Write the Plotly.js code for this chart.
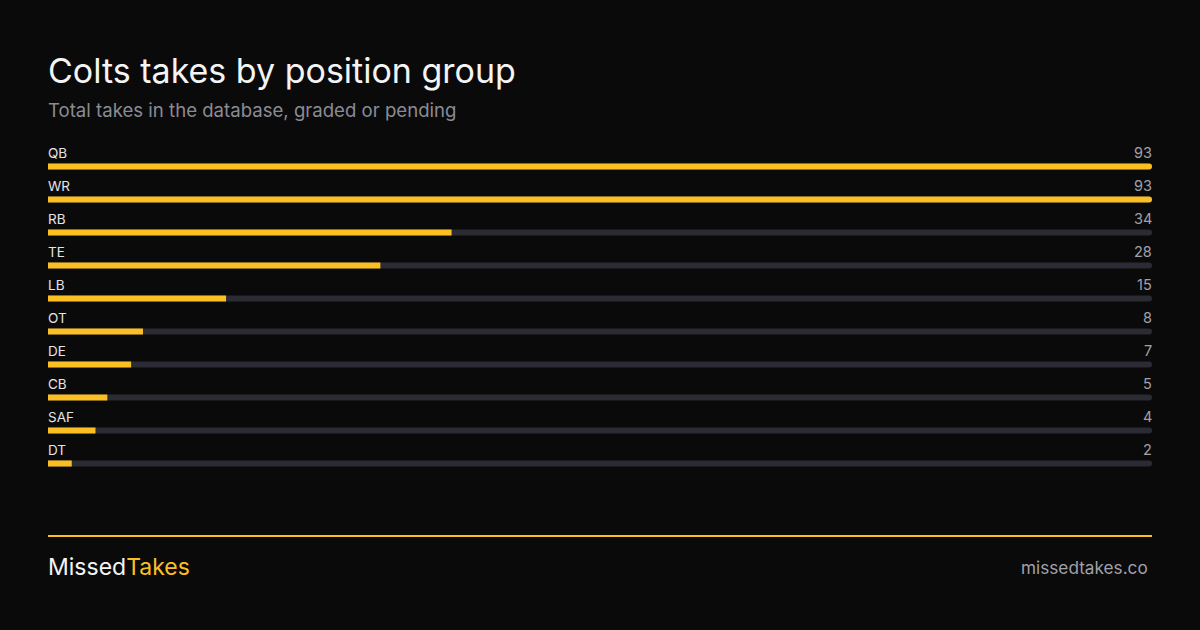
<!DOCTYPE html>
<html>
<head>
<meta charset="utf-8">
<script src="https://cdn.plot.ly/plotly-3.0.1.min.js"></script>
<style>
html,body{margin:0;padding:0;background:#0a0a0a;}
#chart{width:1200px;height:630px;}
</style>
</head>
<body>
<div id="chart"></div>
<script>
const positions = ["QB","WR","RB","TE","LB","OT","DE","CB","SAF","DT"];
const takes = [93,93,34,28,15,8,7,5,4,2];
const maxTakes = Math.max(...takes);
const trackValues = positions.map(() => maxTakes);

const YELLOW = "#fbbf24";
const TRACK = "#2b2b33";
const FONT = "Inter, 'Noto Sans', sans-serif";

const H = 630, MT = 150, MB = 150, PH = H - MT - MB;
const py = px => (H - MB - px) / PH; // pixel -> paper y

const track = {
  type: "bar", orientation: "h",
  x: trackValues, y: positions,
  width: 0.185,
  marker: {color: TRACK, cornerradius: 3},
  hoverinfo: "skip"
};
const bars = {
  type: "bar", orientation: "h",
  x: takes, y: positions,
  width: 0.185,
  marker: {color: YELLOW, cornerradius: 3},
  hoverinfo: "skip"
};

const annotations = [];
positions.forEach((p, i) => {
  annotations.push({
    xref: "paper", yref: "y", x: 0, xshift: -2, y: p, yshift: 14,
    text: p, showarrow: false, xanchor: "left", yanchor: "middle",
    font: {family: FONT, size: 13.5, color: "#e4e4e7"}
  });
  annotations.push({
    xref: "paper", yref: "y", x: 1, xshift: 2, y: p, yshift: 14,
    text: String(takes[i]), showarrow: false, xanchor: "right", yanchor: "middle",
    font: {family: FONT, size: 14.5, color: "#a1a1aa"}
  });
});
annotations.push({
  xref: "paper", yref: "paper", x: 0, xshift: -2, y: py(110),
  text: "Total takes in the database, graded or pending",
  showarrow: false, xanchor: "left", yanchor: "middle",
  font: {family: FONT, size: 18.6, color: "#8b8b94"}
});
annotations.push({
  xref: "paper", yref: "paper", x: 0, xshift: -2, y: py(567),
  text: "Missed<span style='color:" + YELLOW + "'>Takes</span>",
  showarrow: false, xanchor: "left", yanchor: "middle",
  font: {family: FONT, size: 23, color: "#f4f4f5"}
});
annotations.push({
  xref: "paper", yref: "paper", x: 1, xshift: -2, y: py(567),
  text: "missedtakes.co",
  showarrow: false, xanchor: "right", yanchor: "middle",
  font: {family: FONT, size: 17.2, color: "#a1a1aa"}
});

const layout = {
  width: 1200, height: 630,
  paper_bgcolor: "#0a0a0a", plot_bgcolor: "#0a0a0a",
  margin: {l: 48, r: 48, t: MT, b: MB, pad: 0},
  barmode: "overlay",
  showlegend: false,
  title: {
    text: "Colts takes by position group",
    x: 0, xref: "paper", xanchor: "left",
    y: 1 - 71 / H, yref: "container", yanchor: "middle",
    font: {family: FONT, size: 34, color: "#f4f4f5"}
  },
  xaxis: {range: [0, maxTakes], visible: false, fixedrange: true},
  yaxis: {type: "category", range: [9.5, -0.5], autorange: false, visible: false, fixedrange: true},
  annotations: annotations,
  shapes: [{
    type: "line", xref: "paper", yref: "paper",
    x0: 0, x1: 1, y0: py(536), y1: py(536),
    line: {color: YELLOW, width: 2}
  }]
};

Plotly.newPlot("chart", [track, bars], layout, {displayModeBar: false, staticPlot: true});
</script>
</body>
</html>
